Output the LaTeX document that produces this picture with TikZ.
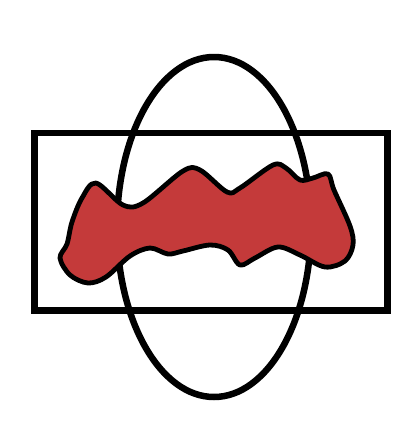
\documentclass[tikz,border=0pt]{standalone}
\definecolor{blobred}{RGB}{196,58,58}
\begin{document}
\begin{tikzpicture}[
  x=1pt,
  y=-1pt,
  outline/.style={
    draw,
    black,
    line width=6.5pt
  },
  blob/.style={
    draw,
    black,
    fill=blobred,
    line width=4.8pt,
    line join=round
  },
]
\useasboundingbox (0,0) rectangle (415,440);
\draw[outline] (34.5,133) rectangle (387.5,310.5);
\draw[outline] (214,227) ellipse [x radius=97, y radius=170];
\draw[blob] plot[smooth cycle, tension=0.55] coordinates {
  (96,183) (123,205) (143,203) (183,171) (200,170)
  (227,192) (240,188) (273,165) (286,168) (300,180)
  (313,178) (328,174) (334,190) (350,226) (353,245)
  (345,261) (325,267) (300,255) (278,247) (255,258)
  (240,265) (228,250) (210,245) (183,251) (168,254)
  (150,248) (130,256) (106,277) (88,283) (70,275)
  (60,258) (67,244) (72,222) (82,198)
};
\end{tikzpicture}
\end{document}
